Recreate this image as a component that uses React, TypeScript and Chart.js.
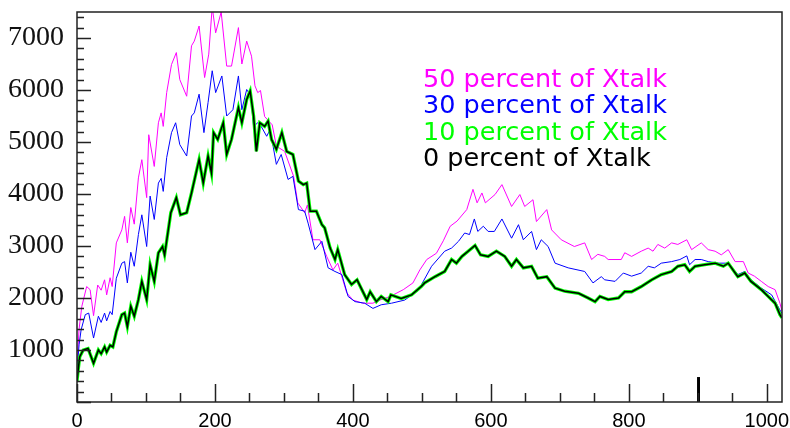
import React, { useEffect, useRef } from "react";
import { Chart, registerables } from "chart.js";

Chart.register(...registerables);

const xTickValues = [0, 200, 400, 600, 800, 1000];
const yTickValues = [1000, 2000, 3000, 4000, 5000, 6000, 7000];

const legendLabels = ["50 percent of Xtalk", "30 percent of Xtalk", "10 percent of Xtalk", "0 percent of Xtalk"];

const magentaX = [0,3,7,14,19,24,30,35,40,43,48,51,57,65,69,73,78,83,89,94,101,104,112,118,122,125,130,137,144,149,159,166,170,177,185,191,196,201,209,217,224,234,239,246,253,258,262,266,272,283,289,301,314,320,330,334,342,352,362,371,378,391,400,414,429,439,454,473,487,497,507,521,531,541,551,565,574,580,587,592,606,616,630,642,649,661,666,681,688,702,721,736,746,755,765,770,789,794,804,818,828,835,842,852,862,871,884,891,905,915,925,934,944,954,966,973,982,992,1002,1012,1019,1022];
const magentaY = [700,1400,1840,2220,2160,1660,2250,2150,2350,2060,2390,2220,3060,3310,3570,3060,3740,3420,4310,4660,3930,5140,4530,5370,5560,5300,5950,6490,6720,6200,5880,6850,6940,7230,6240,6690,7600,7100,7500,6460,6460,7200,6500,6940,6650,6080,5950,5990,5490,5330,4920,4820,4340,3830,3640,3790,3120,3120,2800,2540,2670,2100,1960,1900,1900,1960,2030,2160,2290,2540,2740,2860,3100,3380,3480,3700,4090,3830,4020,3830,3990,4180,3760,3990,3760,3890,3470,3700,3310,3120,2990,3060,2740,2840,2800,2740,2740,2870,2800,2900,2960,2900,3030,2960,3060,3030,3120,2930,3060,2930,2900,2830,2930,2700,2700,2480,2420,2320,2220,2160,1900,1750];

const blueX = [0,3,6,12,17,24,31,35,40,43,48,51,57,65,69,73,78,83,89,94,101,106,112,118,122,125,130,137,143,149,159,166,170,177,184,190,196,201,210,217,226,234,239,246,252,256,262,267,275,280,289,296,306,313,321,330,335,345,355,364,374,384,393,403,417,429,441,456,475,495,514,533,543,553,562,569,576,581,589,596,605,616,630,640,647,659,666,673,683,693,712,736,748,760,765,780,792,804,818,828,837,847,862,874,884,888,896,905,915,930,944,958,968,977,992,1007,1019,1022];
const blueY = [600,1100,1390,1680,1710,1230,1650,1530,1710,1560,1740,1680,2380,2670,2700,2290,2880,2610,3220,3600,2990,3960,3510,4210,4300,4050,4700,5180,5370,4950,4730,5500,5560,5920,5180,5760,6370,5950,6270,5500,5620,6270,5620,6010,5880,5300,5370,5300,5110,5240,4570,4760,4280,4340,3700,3670,3440,2930,3090,2580,2510,2450,2030,1930,1900,1800,1870,1900,1960,2150,2610,2900,2960,3090,3250,3220,3520,3280,3380,3280,3280,3520,3150,3410,3120,3280,2930,3120,2990,2670,2580,2510,2290,2410,2350,2320,2480,2420,2480,2610,2580,2670,2700,2740,2810,2640,2740,2740,2700,2670,2670,2450,2510,2350,2190,2060,1770,1700];

const greenX = [0,2,4,9,16,24,31,35,40,43,48,52,57,65,69,73,78,83,89,94,101,106,112,118,124,127,136,144,150,159,166,177,183,190,195,198,204,212,217,224,234,239,246,251,256,260,265,272,277,282,289,297,304,313,321,328,333,338,347,355,359,367,374,378,388,398,406,413,420,425,434,441,451,455,470,485,499,504,519,533,543,550,558,567,577,585,596,608,620,630,637,647,659,668,681,693,707,727,741,751,758,770,785,794,804,818,833,847,862,871,881,888,896,910,925,937,944,958,968,977,992,1002,1012,1019,1022];
const greenY = [400,650,870,1000,1030,745,1000,930,1060,960,1090,1060,1350,1680,1710,1450,1840,1650,1970,2320,1970,2640,2320,2870,2990,2830,3640,3930,3600,3640,4020,4660,4210,4730,4400,5180,5050,5370,4760,5050,5660,5370,5820,5980,5500,4820,5370,5300,5400,5050,4860,5180,4820,4760,4250,4180,4210,3670,3670,3410,3350,2960,2740,2930,2450,2260,2350,2160,1970,2120,1930,2030,1930,2060,1990,2060,2220,2290,2410,2510,2740,2670,2800,2900,3010,2830,2800,2900,2800,2610,2740,2580,2610,2380,2410,2190,2130,2090,2000,1930,2030,1970,2000,2120,2120,2220,2350,2450,2510,2610,2640,2510,2610,2640,2670,2610,2670,2410,2480,2320,2160,2030,1900,1680,1620];

const blackX = [0,2,4,9,16,24,31,35,40,43,48,52,57,65,69,73,78,83,89,94,101,106,112,118,124,127,136,144,150,159,166,177,183,190,195,198,204,212,217,224,234,239,246,251,256,260,265,272,277,282,289,297,304,313,321,328,333,338,347,355,359,367,374,378,388,398,406,413,420,425,434,441,451,455,470,485,499,504,519,533,543,550,558,567,577,585,596,608,620,630,637,647,659,668,681,693,707,727,741,751,758,770,785,794,804,818,833,847,862,871,881,888,896,910,925,937,944,958,968,977,992,1002,1012,1019,1022];
const blackY = [400,650,870,1000,1030,745,1000,930,1060,960,1090,1060,1350,1680,1710,1450,1840,1650,1970,2320,1970,2640,2320,2870,2990,2830,3640,3930,3600,3640,4020,4660,4210,4730,4400,5180,5050,5370,4760,5050,5660,5370,5820,5980,5500,4820,5370,5300,5400,5050,4860,5180,4820,4760,4250,4180,4210,3670,3670,3410,3350,2960,2740,2930,2450,2260,2350,2160,1970,2120,1930,2030,1930,2060,1990,2060,2220,2290,2410,2510,2740,2670,2800,2900,3010,2830,2800,2900,2800,2610,2740,2580,2610,2380,2410,2190,2130,2090,2000,1930,2030,1970,2000,2120,2120,2220,2350,2450,2510,2610,2640,2510,2610,2640,2670,2610,2670,2410,2480,2320,2160,2030,1900,1680,1620];

const spikeX = [901, 901];
const spikeY = [0, 480];

const zip = (xs: number[], ys: number[]) => xs.map((x, i) => ({ x, y: ys[i] }));

const legendColors = ["#ff00ff", "#0000ff", "#00ff00", "#000000"];

const framePlugin = {
  id: "rootFrame",
  afterDatasetsDraw(chart: any) {
    const { ctx, chartArea, scales } = chart;
    const { left, right, top, bottom } = chartArea;
    const xs = scales.x;
    const ys = scales.y;
    ctx.save();
    ctx.strokeStyle = "#222";
    ctx.lineWidth = 1.5;
    ctx.strokeRect(left, top, right - left, bottom - top);
    ctx.beginPath();
    for (let v = 0; v <= 1020; v += 50) {
      const px = Math.round(xs.getPixelForValue(v)) + 0.5;
      const len = v % 200 === 0 ? 18 : 9;
      ctx.moveTo(px, bottom);
      ctx.lineTo(px, bottom - len);
    }
    for (let v = 0; v <= 7400; v += 200) {
      const py = Math.round(ys.getPixelForValue(v)) + 0.5;
      const len = v % 1000 === 0 ? 14 : 7;
      ctx.moveTo(left, py);
      ctx.lineTo(left + len, py);
    }
    ctx.stroke();

    ctx.font = '25.5px "DejaVu Sans", sans-serif';
    ctx.textAlign = "left";
    ctx.textBaseline = "alphabetic";
    const lx = left + 346;
    const baseY = top + 75;
    legendLabels.forEach((t, i) => {
      ctx.fillStyle = legendColors[i];
      ctx.fillText(t, lx, baseY + i * 26.3);
    });
    ctx.restore();
  },
};

export default function App() {
  const ref = useRef<HTMLCanvasElement | null>(null);
  useEffect(() => {
    if (!ref.current) return;
    const chart = new Chart(ref.current, {
      type: "line",
      data: {
        datasets: [
          { label: legendLabels[3], data: zip(blackX, blackY), borderColor: "#000000", borderWidth: 1.5, pointRadius: 0, tension: 0, fill: false },
          { label: legendLabels[2], data: zip(greenX, greenY), borderColor: "#00ff00", borderWidth: 3.3, pointRadius: 0, tension: 0, fill: false },
          { label: legendLabels[1], data: zip(blueX, blueY), borderColor: "#0000ff", borderWidth: 1, pointRadius: 0, tension: 0, fill: false },
          { label: legendLabels[0], data: zip(magentaX, magentaY), borderColor: "#ff00ff", borderWidth: 1, pointRadius: 0, tension: 0, fill: false },
          { label: "spike", data: zip(spikeX, spikeY), borderColor: "#000000", borderWidth: 3, pointRadius: 0, tension: 0, fill: false },
        ],
      },
      options: {
        animation: false,
        responsive: false,
        maintainAspectRatio: false,
        layout: { padding: { top: 12, right: 8, left: 0, bottom: 0 } },
        plugins: { legend: { display: false }, tooltip: { enabled: false } },
        scales: {
          x: {
            type: "linear",
            min: 0,
            max: 1022,
            grid: { display: false },
            border: { display: false },
            ticks: {
              font: { family: '"Liberation Sans", Arial, sans-serif', size: 20 },
              color: "#000",
              padding: -1,
              maxRotation: 0,
              autoSkip: false,
              callback: (v: any) => String(v),
            },
            afterBuildTicks: (s: any) => {
              s.ticks = xTickValues.map((v) => ({ value: v }));
            },
            afterFit: (s: any) => {
              s.height = 26;
              s.paddingLeft = 0;
              s.paddingRight = 0;
            },
          },
          y: {
            type: "linear",
            min: 0,
            max: 7500,
            grid: { display: false },
            border: { display: false },
            ticks: {
              font: { family: '"Liberation Serif", "Times New Roman", serif', size: 28 },
              color: "#111",
              padding: 5,
              callback: (v: any) => String(v),
            },
            afterBuildTicks: (s: any) => {
              s.ticks = yTickValues.map((v) => ({ value: v }));
            },
            afterFit: (s: any) => {
              s.width = 77;
              s.paddingTop = 0;
              s.paddingBottom = 0;
            },
          },
        },
      },
      plugins: [framePlugin],
    });
    return () => chart.destroy();
  }, []);
  return (
    <div style={{ position: "absolute", left: 0, top: 0, width: 790, height: 428, background: "#fff" }}>
      <canvas ref={ref} width={790} height={428} style={{ display: "block" }} />
    </div>
  );
}
